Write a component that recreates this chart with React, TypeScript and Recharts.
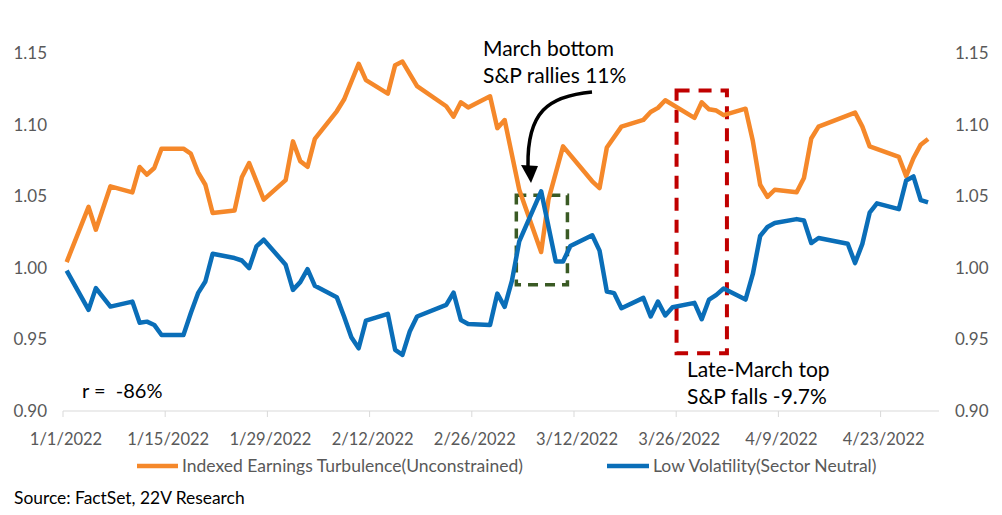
import { LineChart, Line, XAxis, YAxis, ReferenceArea } from 'recharts';

// trading dates (M/D, 2022) where each line turns, and the values read at them
const turbulenceDates = [
  '1/1', '1/4', '1/5', '1/7', '1/10', '1/11', '1/12', '1/13', '1/14', '1/17', '1/18', '1/19', '1/20', '1/21',
  '1/24', '1/25', '1/26', '1/28', '1/31', '2/1', '2/2', '2/3', '2/4', '2/7', '2/8', '2/10', '2/11', '2/14',
  '2/15', '2/16', '2/18', '2/22', '2/23', '2/24', '2/25', '2/28', '3/1', '3/2', '3/4', '3/7', '3/8', '3/10',
  '3/14', '3/15', '3/16', '3/18', '3/21', '3/22', '3/23', '3/24', '3/28', '3/29', '3/30', '3/31', '4/1', '4/4',
  '4/5', '4/6', '4/7', '4/8', '4/11', '4/12', '4/13', '4/14', '4/19', '4/20', '4/21', '4/25', '4/26', '4/27',
  '4/28', '4/29',
];
const turbulenceValues = [
  1.004, 1.0425, 1.0266, 1.0569, 1.0527, 1.0704, 1.065, 1.0697, 1.0832, 1.0832, 1.0797, 1.0667, 1.058, 1.0383,
  1.04, 1.0632, 1.0732, 1.0476, 1.0612, 1.0883, 1.0745, 1.0705, 1.09, 1.1093, 1.1175, 1.1425, 1.131, 1.1216,
  1.1415, 1.144, 1.1268, 1.1128, 1.1056, 1.1156, 1.112, 1.1198, 1.0975, 1.1032, 1.0545, 1.011, 1.0476, 1.0848,
  1.0604, 1.0557, 1.084, 1.0986, 1.1033, 1.1088, 1.1117, 1.117, 1.1047, 1.1156, 1.1107, 1.1098, 1.1066, 1.1111,
  1.0885, 1.058, 1.0495, 1.0545, 1.0527, 1.0627, 1.0903, 1.0986, 1.1084, 1.0986, 1.0848, 1.0774, 1.064, 1.0765,
  1.086, 1.09,
];

const lowVolDates = [
  '1/1', '1/4', '1/5', '1/7', '1/10', '1/11', '1/12', '1/13', '1/14', '1/17', '1/18', '1/19', '1/20', '1/21',
  '1/24', '1/25', '1/26', '1/27', '1/28', '1/31', '2/1', '2/2', '2/3', '2/4', '2/7', '2/8', '2/9', '2/10',
  '2/11', '2/14', '2/15', '2/16', '2/17', '2/18', '2/22', '2/23', '2/24', '2/25', '2/28', '3/1', '3/2', '3/3',
  '3/4', '3/7', '3/9', '3/10', '3/11', '3/14', '3/15', '3/16', '3/17', '3/18', '3/21', '3/22', '3/23', '3/24',
  '3/25', '3/28', '3/29', '3/30', '3/31', '4/1', '4/4', '4/5', '4/6', '4/7', '4/8', '4/11', '4/12', '4/13',
  '4/14', '4/18', '4/19', '4/20', '4/21', '4/22', '4/25', '4/26', '4/27', '4/28', '4/29',
];
const lowVolValues = [
  0.998, 0.9706, 0.9858, 0.9729, 0.9764, 0.9617, 0.9624, 0.9601, 0.9531, 0.9531, 0.9683, 0.9823, 0.9904, 1.0098,
  1.0068, 1.0051, 0.9998, 1.0149, 1.0196, 1.0021, 0.9846, 0.99, 0.9991, 0.9874, 0.9795, 0.966, 0.9515, 0.9438,
  0.9631, 0.9678, 0.9427, 0.9392, 0.9555, 0.966, 0.9741, 0.9827, 0.9636, 0.9608, 0.9601, 0.982, 0.9727, 0.991,
  1.0184, 1.0534, 1.0044, 1.0044, 1.0152, 1.0227, 1.012, 0.9834, 0.9823, 0.9718, 0.979, 0.966, 0.9764, 0.9667,
  0.9725, 0.9755, 0.9641, 0.9778, 0.9811, 0.9855, 0.9778, 0.9957, 1.0222, 1.0285, 1.0313, 1.034, 1.033, 1.0173,
  1.0208, 1.0168, 1.0033, 1.0167, 1.0385, 1.045, 1.041, 1.061, 1.0638, 1.0473, 1.0457,
];

const xTicks = [0, 14, 28, 42, 56, 70, 84, 98, 112];
const xTickLabels = ['1/1/2022', '1/15/2022', '1/29/2022', '2/12/2022', '2/26/2022', '3/12/2022', '3/26/2022', '4/9/2022', '4/23/2022'];
const yTicks = [0.9, 0.95, 1.0, 1.05, 1.1, 1.15];

const ORANGE = '#F5882A';
const BLUE = '#0A6EB8';
const FONT = 'Lato, "Liberation Sans", sans-serif';

const monthStart = [0, 31, 59, 90];
// each date sits in the middle of its day slot on the axis
const toX = (md: string) => {
  const [m, d] = md.split('/').map(Number);
  return monthStart[m - 1] + d - 1 + 0.5;
};

const turbulenceData = turbulenceDates.map((dt, i) => ({ x: toX(dt), v: turbulenceValues[i] }));
const lowVolData = lowVolDates.map((dt, i) => ({ x: toX(dt), v: lowVolValues[i] }));

function DateTick(props: any) {
  const { x, y, payload } = props;
  const label = xTickLabels[xTicks.indexOf(payload.value)];
  return (
    <text x={x + 3} y={y + 26} textAnchor="middle" fill="#595959" fontSize={16.5} fontFamily={FONT}>
      {label}
    </text>
  );
}

export default function App() {
  return (
    <div style={{ position: 'absolute', left: 0, top: 0, width: 1002, height: 515, background: '#fff' }}>
      <LineChart width={1002} height={515} margin={{ top: 53, right: 0, bottom: 0, left: 0 }}>
        <XAxis dataKey="x" type="number" domain={[0, 120]} ticks={xTicks} allowDataOverflow
          height={104} interval={0} stroke="#D9D9D9" tickSize={6} tick={<DateTick />} />
        <YAxis yAxisId="left" type="number" domain={[0.9, 1.15]} ticks={yTicks} width={63}
          axisLine={false} tickLine={false} tickSize={0} tickMargin={16}
          tickFormatter={(v: number) => v.toFixed(2)}
          tick={{ fill: '#595959', fontSize: 17, fontFamily: FONT }} />
        <YAxis yAxisId="right" orientation="right" type="number" domain={[0.9, 1.15]} ticks={yTicks} width={63}
          axisLine={false} tickLine={false} tickSize={0} tickMargin={16}
          tickFormatter={(v: number) => v.toFixed(2)}
          tick={{ fill: '#595959', fontSize: 17, fontFamily: FONT }} />
        <Line yAxisId="left" data={turbulenceData} dataKey="v" type="linear" stroke={ORANGE} strokeWidth={4.5}
          dot={false} isAnimationActive={false} strokeLinejoin="round" />
        <Line yAxisId="left" data={lowVolData} dataKey="v" type="linear" stroke={BLUE} strokeWidth={4.5}
          dot={false} isAnimationActive={false} strokeLinejoin="round" />
        {/* secondary axis carries the same series, drawn invisibly so the right scale shows */}
        <Line yAxisId="right" data={turbulenceData} dataKey="v" type="linear" stroke="none"
          dot={false} activeDot={false} isAnimationActive={false} legendType="none" />
        <ReferenceArea yAxisId="left" x1={62.1} x2={69.1} y1={0.9881} y2={1.0506} fill="none"
          stroke="#3A5A24" strokeWidth={3.5} strokeDasharray="10 7" />
        <ReferenceArea yAxisId="left" x1={84.05} x2={90.95} y1={0.9403} y2={1.1238} fill="none"
          stroke="#C00000" strokeWidth={4} strokeDasharray="13 9" />
      </LineChart>

      <svg width={1002} height={515} style={{ position: 'absolute', left: 0, top: 0, pointerEvents: 'none' }}
        fontFamily={FONT}>
        <text x={483} y={56} fontSize={21} fill="#000">March bottom</text>
        <text x={483} y={83} fontSize={21} fill="#000">S&amp;P rallies 11%</text>
        <path d="M 592 92 C 548 96, 527 112, 528 166" fill="none" stroke="#000" strokeWidth={3.5} />
        <polygon points="521,165 538,166 531,183" fill="#000" />
        <text x={687} y={377} fontSize={21} fill="#000">Late-March top</text>
        <text x={687} y={404} fontSize={21} fill="#000">S&amp;P falls -9.7%</text>
        <text x={82} y={398} fontSize={20} fill="#000" xmlSpace="preserve">r =  -86%</text>

        <line x1={137} y1={466} x2={178} y2={466} stroke={ORANGE} strokeWidth={4.5} />
        <text x={182} y={472} fontSize={17.5} fill="#595959">Indexed Earnings Turbulence(Unconstrained)</text>
        <line x1={607} y1={466} x2={649} y2={466} stroke={BLUE} strokeWidth={4.5} />
        <text x={653} y={472} fontSize={17.5} fill="#595959">Low Volatility(Sector Neutral)</text>

        <text x={14} y={504} fontSize={17.4} fill="#000">Source: FactSet, 22V Research</text>
      </svg>
    </div>
  );
}
